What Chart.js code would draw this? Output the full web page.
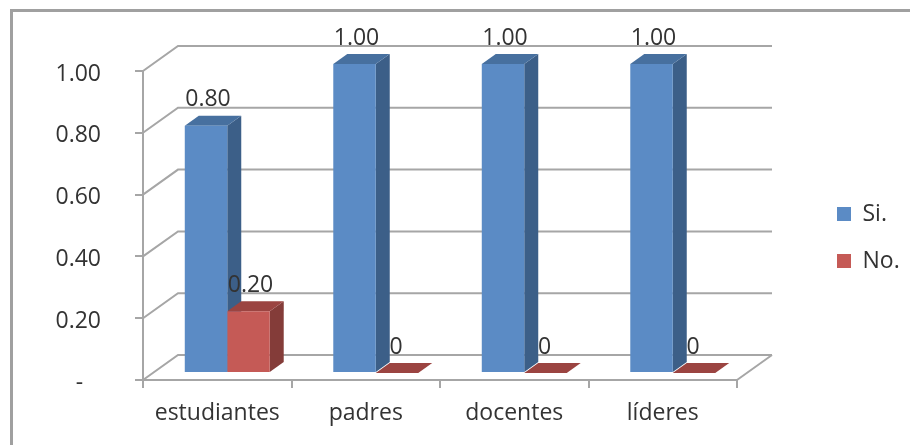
<!DOCTYPE html>
<html>
<head>
<meta charset="utf-8">
<style>
  html, body { margin: 0; padding: 0; background: #fff; }
  #wrap { width: 910px; height: 445px; position: relative; }
  canvas { filter: blur(0.4px); }
</style>
<script src="https://cdn.jsdelivr.net/npm/chart.js@4"></script>
</head>
<body>
<div id="wrap"><canvas id="canvas1"></canvas></div>
<script>
// chart data
let categories = ['estudiantes', 'padres', 'docentes', 'líderes'];
let siValues = [0.8, 1, 1, 1];
let noValues = [0.2, 0, 0, 0];
let seriesNames = ['Si.', 'No.'];
let yTickValues = [0, 0.2, 0.4, 0.6, 0.8, 1];

let fontFamily = '"Open Sans", sans-serif';
let gridColor = '#a6a6a6';
let textColor = '#333333';

// bar colours: front, side, top
let blue = ['#5b8bc5', '#3c5f88', '#47709f'];
let red = ['#c55a56', '#843c39', '#9b4441'];

// how the fake 3d is set up
let wallX = 35, wallY = -25;     // back wall offset from the axis plane
let barX = 10, barY = -7;        // bars stand a bit inside the floor
let depthX = 14, depthY = -10;   // bar depth

function poly(ctx, pts, fill) {
  ctx.beginPath();
  ctx.moveTo(pts[0][0], pts[0][1]);
  for (let i = 1; i < pts.length; i++) ctx.lineTo(pts[i][0], pts[i][1]);
  ctx.closePath();
  ctx.fillStyle = fill;
  ctx.fill();
}

let fake3d = {
  id: 'fake3d',
  beforeLayout(chart) {
    // keep the legend box wide so the plot ends where it should
    let legend = chart.legend;
    if (!legend.patched) {
      let fit = legend.fit;
      legend.fit = function() { fit.call(this); this.width = 173; };
      legend.patched = true;
    }
  },
  afterLayout(chart) {
    // legend sits further right and higher than chart.js would put it
    chart.legend.left = 837 - chart.options.plugins.legend.labels.padding;
    chart.legend.top -= 41;
  },
  beforeDraw(chart) {
    // outer frame, only top and left are visible in the crop
    let ctx = chart.ctx;
    ctx.save();
    ctx.strokeStyle = '#a0a0a0';
    ctx.lineWidth = 3;
    ctx.beginPath();
    ctx.moveTo(11.5, 445);
    ctx.lineTo(11.5, 10.5);
    ctx.lineTo(910, 10.5);
    ctx.stroke();
    ctx.restore();
  },
  beforeDatasetsDraw(chart) {
    let ctx = chart.ctx, area = chart.chartArea, y = chart.scales.y;
    ctx.save();
    ctx.strokeStyle = gridColor;
    ctx.lineWidth = 2;
    // side wall diagonals and back wall lines
    yTickValues.forEach(function(v) {
      let py = y.getPixelForValue(v);
      ctx.beginPath();
      ctx.moveTo(area.left, py);
      ctx.lineTo(area.left + wallX, py + wallY);
      ctx.lineTo(area.right + wallX, py + wallY);
      ctx.stroke();
    });
    // right edge of the floor
    let py0 = y.getPixelForValue(0);
    ctx.beginPath();
    ctx.moveTo(area.right, py0);
    ctx.lineTo(area.right + wallX, py0 + wallY);
    ctx.stroke();

    // sides and tops of the bars, blue first so red covers it
    [blue, red].forEach(function(cols, d) {
      chart.getDatasetMeta(d).data.forEach(function(bar) {
        let l = bar.x - bar.width / 2 + barX, r = bar.x + bar.width / 2 + barX;
        let t = bar.y + barY, b = bar.base + barY;
        poly(ctx, [[r, t], [r + depthX, t + depthY], [r + depthX, b + depthY], [r, b]], cols[1]);
        poly(ctx, [[l, t], [l + depthX, t + depthY], [r + depthX, t + depthY], [r, t]], cols[2]);
      });
    });
    ctx.restore();
    // fronts are drawn by the library, moved onto the bar plane
    ctx.save();
    ctx.translate(barX, barY);
  },
  afterDatasetsDraw(chart) {
    let ctx = chart.ctx;
    ctx.restore();
    // value labels
    ctx.save();
    ctx.font = '23px ' + fontFamily;
    ctx.fillStyle = textColor;
    ctx.textAlign = 'center';
    ctx.textBaseline = 'middle';
    chart.data.datasets.forEach(function(ds, d) {
      chart.getDatasetMeta(d).data.forEach(function(bar, i) {
        let v = ds.data[i];
        let txt = v === 0 ? '0' : v.toFixed(2);
        ctx.fillText(txt, bar.x + barX + (v === 0 ? -1 : 2), bar.y + barY - 26);
      });
    });
    ctx.restore();
  }
};

let options = {
  type: 'bar',
  data: {
    labels: categories,
    datasets: [
      { label: seriesNames[0], data: siValues, backgroundColor: blue[0] },
      { label: seriesNames[1], data: noValues, backgroundColor: red[0] }
    ]
  },
  options: {
    responsive: true,
    maintainAspectRatio: false,
    animation: false,
    layout: { padding: { top: 71, left: 0, right: 0, bottom: 0 } },
    datasets: { bar: { categoryPercentage: 0.572, barPercentage: 1 } },
    plugins: {
      tooltip: { enabled: false },
      legend: {
        position: 'right',
        labels: {
          boxWidth: 14,
          boxHeight: 14,
          padding: 24,
          color: textColor,
          font: { family: fontFamily, size: 23 }
        }
      }
    },
    scales: {
      x: {
        afterFit(scale) { scale.height = 65; },
        border: { color: gridColor, width: 2 },
        grid: { drawOnChartArea: false, color: gridColor, lineWidth: 2, tickLength: 8 },
        ticks: { color: textColor, padding: 12, font: { family: fontFamily, size: 23 } }
      },
      y: {
        min: 0,
        max: 1,
        afterFit(scale) { scale.width = 143; },
        afterBuildTicks(scale) { scale.ticks = yTickValues.map(function(v) { return { value: v }; }); },
        border: { color: gridColor, width: 2 },
        grid: { drawOnChartArea: false, color: gridColor, lineWidth: 2, tickLength: 8 },
        ticks: {
          color: textColor,
          padding: 34,
          labelOffset: 3,
          font: { family: fontFamily, size: 23 },
          callback: function(v) { return v === 0 ? '-   ' : v.toFixed(2); }
        }
      }
    }
  },
  plugins: [fake3d]
};

let chart = new Chart(document.getElementById('canvas1'), options);
</script>
</body>
</html>
